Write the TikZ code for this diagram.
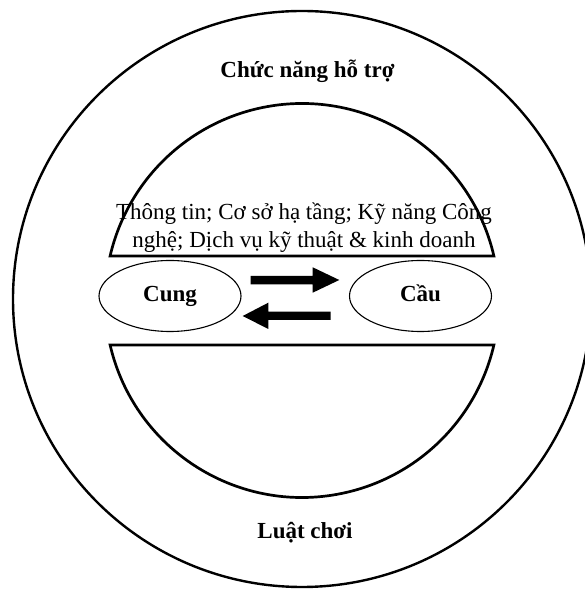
\documentclass[tikz,border=0pt]{standalone}
\usepackage{fontspec}
\setmainfont{Liberation Serif}
\usetikzlibrary{shapes.geometric}
\begin{document}
\begin{tikzpicture}[x=1pt,y=1pt,
  outerring/.style={line width=2.4pt},
  segment/.style={line width=2.7pt, line join=miter},
  oval/.style={draw, ellipse, line width=1.1pt, minimum width=142pt, minimum height=71pt,
    inner sep=0pt, text height=16pt, text depth=4.6pt, font=\fontsize{23}{28}\selectfont\bfseries},
  label/.style={anchor=base, inner sep=0pt, font=\fontsize{23}{28}\selectfont},
  blockarrow/.style={fill=black}]
\useasboundingbox (0,0) rectangle (585,589);
% outer ellipse
\draw[outerring] (302,290) ellipse [x radius=289pt, y radius=288pt];
% upper segment
\draw[segment] (493.9,333) arc[start angle=13.06, end angle=166.94, radius=197pt] -- cycle;
% lower segment
\draw[segment] (110.1,244) arc[start angle=193.06, end angle=346.94, radius=197pt] -- cycle;
% texts
\node[label, font=\fontsize{23}{28}\selectfont\bfseries] (title) at (307.5,511) {Chức năng hỗ trợ};
\node[label, align=center] (info) at (304,341) {Thông tin; Cơ sở hạ tầng; Kỹ năng Công\\nghệ; Dịch vụ kỹ thuật \& kinh doanh};
\node[label, font=\fontsize{23}{28}\selectfont\bfseries] (rules) at (305,50) {Luật chơi};
% ovals
\node[oval] (cung) at (170,293) {Cung};
\node[oval] (cau) at (420.5,293) {Cầu};
% block arrows
\fill[blockarrow] (250.7,313) -- (312.7,313) -- (312.7,321.7) -- (339.3,309) -- (312.7,296.3) -- (312.7,304.7) -- (250.7,304.7) -- cycle;
\fill[blockarrow] (330.7,277.3) -- (268.3,277.3) -- (268.3,286.3) -- (242.7,273) -- (268.3,260) -- (268.3,269) -- (330.7,269) -- cycle;
\end{tikzpicture}
\end{document}
